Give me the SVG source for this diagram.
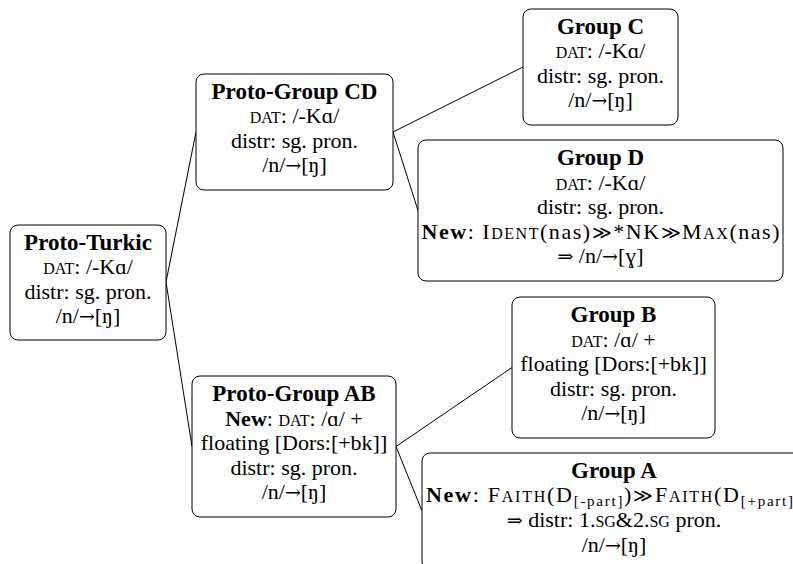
<svg xmlns="http://www.w3.org/2000/svg" width="793" height="564" viewBox="0 0 793 564">
<style>
  .box { fill: #ffffff; stroke: #000000; stroke-width: 1; }
  text { font-family: "Liberation Serif", "DejaVu Serif", serif; font-size: 22px; fill: #000000; text-anchor: middle; }
  .t { font-weight: bold; font-size: 23px; }
  .b { font-weight: bold; }
  .sc { font-size: 16px; }
  .sub { font-size: 15px; }
  .sym { font-family: "DejaVu Serif", serif; font-size: 19px; }
  .edge { stroke: #000000; stroke-width: 1; fill: none; }
</style>
<rect width="793" height="564" fill="#ffffff"/>
<g id="connectors">
  <line class="edge" x1="166" y1="282" x2="196" y2="132"/>
  <line class="edge" x1="166" y1="282" x2="192" y2="446.5"/>
  <line class="edge" x1="393" y1="132" x2="523" y2="67"/>
  <line class="edge" x1="393" y1="132" x2="418" y2="210.5"/>
  <line class="edge" x1="396" y1="446.5" x2="512" y2="367.5"/>
  <line class="edge" x1="396" y1="446.5" x2="422" y2="511"/>
</g>
<g id="proto-turkic">
  <rect class="box" x="10" y="225" width="156" height="115" rx="8"/>
  <text class="t" x="88" y="250">Proto-Turkic</text>
  <text x="88" y="274"><tspan class="sc">DAT</tspan>: /-Kɑ/</text>
  <text x="88" y="299">distr: sg. pron.</text>
  <text x="88" y="323">/n/<tspan class="sym">→</tspan>[ŋ]</text>
</g>
<g id="proto-group-cd">
  <rect class="box" x="196" y="74" width="197" height="116" rx="8"/>
  <text class="t" x="294.5" y="99">Proto-Group CD</text>
  <text x="294.5" y="123"><tspan class="sc">DAT</tspan>: /-Kɑ/</text>
  <text x="294.5" y="147.5">distr: sg. pron.</text>
  <text x="294.5" y="172">/n/<tspan class="sym">→</tspan>[ŋ]</text>
</g>
<g id="group-c">
  <rect class="box" x="523" y="9" width="155" height="116" rx="8"/>
  <text class="t" x="600.5" y="34">Group C</text>
  <text x="600.5" y="58"><tspan class="sc">DAT</tspan>: /-Kɑ/</text>
  <text x="600.5" y="82.5">distr: sg. pron.</text>
  <text x="600.5" y="107">/n/<tspan class="sym">→</tspan>[ŋ]</text>
</g>
<g id="group-d">
  <rect class="box" x="418" y="140" width="365" height="141" rx="8"/>
  <text class="t" x="600.5" y="165">Group D</text>
  <text x="600.5" y="189.5"><tspan class="sc">DAT</tspan>: /-Kɑ/</text>
  <text x="600.5" y="214">distr: sg. pron.</text>
  <text x="600.5" y="238.5" textLength="358"><tspan class="b">New</tspan>: I<tspan class="sc">DENT</tspan>(nas)<tspan class="sym">≫</tspan>*NK<tspan class="sym">≫</tspan>M<tspan class="sc">AX</tspan>(nas)</text>
  <text x="600.5" y="263"><tspan class="sym">⇒</tspan> /n/<tspan class="sym">→</tspan>[ɣ]</text>
</g>
<g id="proto-group-ab">
  <rect class="box" x="192" y="376" width="204" height="141" rx="8"/>
  <text class="t" x="294" y="401">Proto-Group AB</text>
  <text x="294" y="425.5"><tspan class="b">New</tspan>: <tspan class="sc">DAT</tspan>: /ɑ/ +</text>
  <text x="294" y="450">floating [Dors:[+bk]]</text>
  <text x="294" y="474.5">distr: sg. pron.</text>
  <text x="294" y="499">/n/<tspan class="sym">→</tspan>[ŋ]</text>
</g>
<g id="group-b">
  <rect class="box" x="512" y="297" width="203" height="141" rx="8"/>
  <text class="t" x="613.5" y="322">Group B</text>
  <text x="613.5" y="346.5"><tspan class="sc">DAT</tspan>: /ɑ/ +</text>
  <text x="613.5" y="371">floating [Dors:[+bk]]</text>
  <text x="613.5" y="395.5">distr: sg. pron.</text>
  <text x="613.5" y="420">/n/<tspan class="sym">→</tspan>[ŋ]</text>
</g>
<g id="group-a">
  <rect class="box" x="422" y="453" width="384" height="116" rx="8"/>
  <text class="t" x="614" y="478">Group A</text>
  <text x="614" y="501.5" textLength="376"><tspan class="b">New</tspan>: F<tspan class="sc">AITH</tspan>(D<tspan class="sub" dy="4">[-part]</tspan><tspan dy="-4">)</tspan><tspan class="sym">≫</tspan>F<tspan class="sc">AITH</tspan>(D<tspan class="sub" dy="4">[+part]</tspan><tspan dy="-4">)</tspan></text>
  <text x="614" y="527"><tspan class="sym">⇒</tspan> distr: 1.<tspan class="sc">SG</tspan>&amp;2.<tspan class="sc">SG</tspan> pron.</text>
  <text x="614" y="551.5">/n/<tspan class="sym">→</tspan>[ŋ]</text>
</g>
</svg>
